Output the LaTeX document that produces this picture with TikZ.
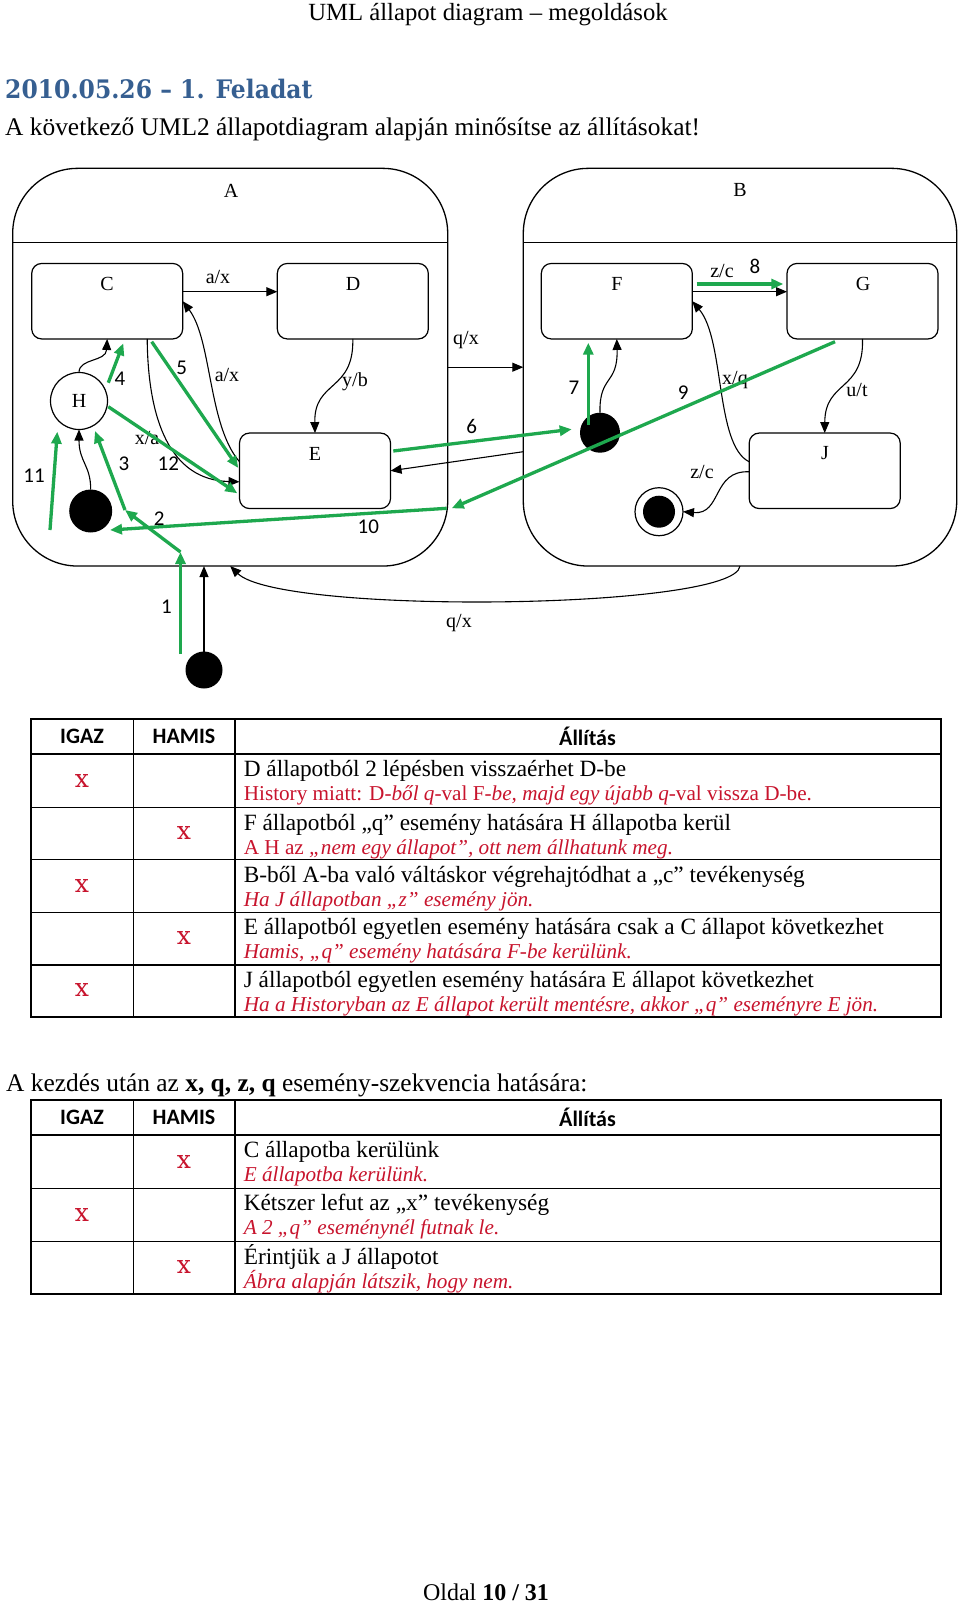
\documentclass[tikz,border=0pt]{standalone}
\usepackage{fontspec}
\setmainfont{Liberation Serif}
\newfontfamily\calib{Carlito}
\newfontfamily\dvs{DejaVu Serif}
\newfontfamily\dvsc[FakeStretch=0.92]{DejaVu Serif}
\usetikzlibrary{arrows.meta,calc}
\definecolor{grn}{RGB}{30,168,78}
\definecolor{rd}{RGB}{200,20,45}
\definecolor{ttl}{RGB}{54,95,145}
\newcommand{\fs}[1]{\fontsize{#1}{#1}\selectfont}
\begin{document}
\begin{tikzpicture}[x=1pt,y=-1pt,
  big/.style={draw, line width=1.3pt, rounded corners=65pt, inner sep=0, outer sep=0, minimum height=397.7pt},
  st/.style={draw, line width=1.2pt, rounded corners=10pt, minimum width=151pt, minimum height=75.5pt, inner sep=0, outer sep=0},
  lbl/.style={font=\fs{20}, inner sep=0},
  num/.style={font=\calib\fs{21}, inner sep=0},
  tr/.style={line width=1.1pt, -{Triangle[length=11pt,width=9pt]}},
  gr/.style={draw=grn, line width=3.3pt, -{Triangle[length=12pt,width=10pt]}},
  ini/.style={circle, fill=black, inner sep=0, outer sep=0},
  txt/.style={anchor=base west, inner sep=0, font=\fs{23.3}},
  rtxt/.style={anchor=base west, inner sep=0, font=\fs{21.2}, text=rd},
  hdr/.style={inner sep=0, font=\calib\bfseries\fs{22}},
  xm/.style={inner sep=0, font=\dvs\fs{25}, text=rd},
  thick line/.style={line width=2.2pt},
  thin line/.style={line width=1.3pt}
]
\fill[white] (0,0) rectangle (960,1605);
\useasboundingbox (0,0) rectangle (960,1605);

% page texts
\node[inner sep=0, anchor=base, font=\fs{24.7}] (pghead) at (488,21) {UML állapot diagram – megoldások};
\node[inner sep=0, anchor=base west, font=\dvsc\bfseries\fs{25.5}, text=ttl] (title) at (5,99) {2010.05.26 – 1. Feladat};
\node[inner sep=0, anchor=base west, font=\fs{25.4}] (intro) at (5,136) {A következő UML2 állapotdiagram alapján minősítse az állításokat!};

% ===== diagram =====
\node[big, minimum width=435pt] (A) at (230.2,367.2) {};
\node[big, minimum width=433.4pt] (B) at (740,367.2) {};
\draw[line width=1.3pt] ($(A.north west)+(0,74.4)$) -- ($(A.north east)+(0,74.4)$);
\draw[line width=1.3pt] ($(B.north west)+(0,74.4)$) -- ($(B.north east)+(0,74.4)$);
\node[lbl] (Al) at (231,191) {A};
\node[lbl] (Bl) at (740,190) {B};

\node[st] (C) at (107.2,301.2) {};
\node[st] (D) at (352.8,301.2) {};
\node[st] (E) at (315,470.8) {};
\node[st] (F) at (616.8,301.2) {};
\node[st] (G) at (862.5,301.2) {};
\node[st] (J) at (824.7,470.8) {};
\node[lbl] (Cl) at (107,284) {C};
\node[lbl] (Dl) at (353,284) {D};
\node[lbl] (El) at (315,454) {E};
\node[lbl] (Fl) at (617,284) {F};
\node[lbl] (Gl) at (863,284) {G};
\node[lbl] (Jl) at (825,453) {J};

\node[circle, draw, line width=1.2pt, minimum size=57pt, inner sep=0, outer sep=0, font=\fs{20}] (H) at (79,401) {H};
\node[ini, minimum size=43pt] (iA) at (90.7,511) {};
\node[ini, minimum size=40pt] (iB) at (600,432.7) {};
\node[ini, minimum size=37pt] (i0) at (204,670) {};
\node[circle, draw, line width=1.2pt, minimum size=48pt, inner sep=0, outer sep=0] (fin) at (659,511.7) {};
\node[ini, minimum size=32pt] (finin) at (fin) {};

% black transitions
\draw[tr] ($(C.east)+(0,-9.5)$) -- ($(D.west)+(0,-9.5)$);
\node[lbl] (l1) at (218,277) {a/x};
\draw[tr] (H.north) .. controls (79,358) and (106,362) .. (C.south);
\draw[tr] (iA.north) .. controls (90.7,465) and (79,462) .. (H.south);
\draw[tr] ($(E.west)+(0,-9)$) .. controls (208,425) and (212,340) .. (C.east);
\node[lbl] (l2) at (227,375) {a/x};
\draw[tr] ($(C.south)+(40,0)$) .. controls (148,420) and (170,480) .. ($(E.west)+(0,11)$);
\node[lbl] (l3) at (147,438) {x/a};
\draw[tr] (D.south) .. controls (354,392) and (314,380) .. (E.north);
\node[lbl] (l4) at (355,382) {y/b};
\coordinate (bE) at ($(B.west)+(0,84.5)$);
\draw[tr] (bE) -- (E.east);
\draw[tr] (A.east) -- (B.west);
\node[lbl] (l5) at (466,340) {q/x};
\draw[tr] (B.south) .. controls (735,610) and (280,615) .. (A.south);
\node[lbl] (l6) at (459,623) {q/x};
\draw[tr] (i0.north) -- (i0 |- A.south);

\draw[tr] ($(F.east)+(0,-9.5)$) -- ($(G.west)+(0,-9.5)$);
\node[lbl] (l7) at (722,271) {z/c};
\draw[tr] (iB.north) .. controls (599,375) and (618,385) .. (F.south);
\draw[tr] ($(J.west)+(0,-9)$) .. controls (715,445) and (725,340) .. (F.east);
\node[lbl] (l8) at (735,380) {x/q};
\draw[tr] (G.south) .. controls (864,392) and (825,380) .. (J.north);
\node[lbl] (l9) at (857,390) {u/t};
\draw[tr] ($(J.west)+(0,1)$) .. controls (712,470) and (722,515) .. (fin.east);
\node[lbl] (l10) at (702,472) {z/c};

% green solution path
\coordinate (g1s) at (180.5,654);
\coordinate (g1e) at (180.5,552);
\coordinate (g2e) at (125,510);
\coordinate (g3e) at (95,431);
\coordinate (g4s) at (108.3,382.7);
\coordinate (g4e) at (123.3,343.3);
\coordinate (g5s) at (151.7,341.7);
\coordinate (g5e) at (238.3,468);
\coordinate (g6s) at (393.3,451);
\coordinate (g6e) at (571.7,429.3);
\coordinate (g7s) at (588.3,425);
\coordinate (g7e) at (588.3,342.7);
\coordinate (g8s) at (696.7,284);
\coordinate (g8e) at (783.3,284);
\coordinate (g9s) at (835,341.7);
\coordinate (g9e) at (451.7,508.3);
\coordinate (g10s) at (446.7,508.3);
\coordinate (g10e) at (110,530);
\coordinate (g11s) at (50,530);
\coordinate (g11e) at (57.3,431.7);
\coordinate (g12s) at (108.3,406.7);
\coordinate (g12e) at (237.3,493.3);
\draw[gr] (g1s) -- (g1e);
\draw[gr] (g1e) -- (g2e);
\draw[gr] (g2e) -- (g3e);
\draw[gr] (g4s) -- (g4e);
\draw[gr] (g5s) -- (g5e);
\draw[gr] (g6s) -- (g6e);
\draw[gr] (g7s) -- (g7e);
\draw[gr] (g8s) -- (g8e);
\draw[gr] (g9s) -- (g9e);
\draw[gr] (g10s) -- (g10e);
\draw[gr] (g11s) -- (g11e);
\draw[gr] (g12s) -- (g12e);
\node[num] (n1) at (166.5,606.7) {1};
\node[num] (n2) at (159.3,518.3) {2};
\node[num] (n3) at (124,464) {3};
\node[num] (n4) at (120,378.3) {4};
\node[num] (n5) at (181.7,368.3) {5};
\node[num] (n6) at (471.7,426.7) {6};
\node[num] (n7) at (574,387.7) {7};
\node[num] (n8) at (755,266.7) {8};
\node[num] (n9) at (683.3,392.7) {9};
\node[num] (n10) at (368.3,526.7) {10};
\node[num] (n11) at (34,476) {11};
\node[num] (n12) at (168.3,464) {12};

% ===== table 1 =====
\draw[thick line] (30.6,719.3) rectangle (940.6,1017.3);
\draw[thick line] (30.6,754) -- (940.6,754);
\foreach \yy in {807.7,859.7,912.3,965} \draw[thin line] (30.6,\yy) -- (940.6,\yy);
\foreach \xx in {133.4,235} \draw[thin line] (\xx,719.3) -- (\xx,1017.3);
\node[hdr] (h1a) at (82,736.7) {IGAZ};
\node[hdr] (h1b) at (184,736.7) {HAMIS};
\node[hdr] (h1c) at (587.5,736.7) {Állítás};

\node[txt] (r1a) at (243.6,776.5) {D állapotból 2 lépésben visszaérhet D-be};
\node[rtxt] (r1b) at (243.6,800.5) {History miatt: D-\textit{ből} \textit{q}-val F-\textit{be, majd egy újabb} \textit{q}-val vissza D-be.};
\node[xm] (x1) at (82,780.7) {x};
\node[txt] (r2a) at (243.6,830.2) {F állapotból „q” esemény hatására H állapotba kerül};
\node[rtxt] (r2b) at (243.6,854.2) {A H az \textit{„nem egy állapot”, ott nem állhatunk meg.}};
\node[xm] (x2) at (184,833.3) {x};
\node[txt] (r3a) at (243.6,882.2) {B-ből A-ba való váltáskor végrehajtódhat a „c” tevékenység};
\node[rtxt] (r3b) at (243.6,906.2) {\textit{Ha J állapotban „z” esemény jön.}};
\node[xm] (x3) at (82,885.7) {x};
\node[txt] (r4a) at (243.6,934.8) {E állapotból egyetlen esemény hatására csak a C állapot következhet};
\node[rtxt] (r4b) at (243.6,958.8) {\textit{Hamis, „q” esemény hatására F-be kerülünk.}};
\node[xm] (x4) at (184,937.7) {x};
\node[txt] (r5a) at (243.6,987.5) {J állapotból egyetlen esemény hatására E állapot következhet};
\node[rtxt] (r5b) at (243.6,1011.5) {\textit{Ha a Historyban az E állapot került mentésre, akkor „q” eseményre E jön.}};
\node[xm] (x5) at (82,990) {x};

% ===== sequence text and table 2 =====
\node[inner sep=0, anchor=base west, font=\fs{25.4}] (seq) at (6,1091) {A kezdés után az \textbf{x, q, z, q} esemény-szekvencia hatására:};
\draw[thick line] (30.6,1100) rectangle (940.6,1294.3);
\draw[thick line] (30.6,1135) -- (940.6,1135);
\foreach \yy in {1188.3,1241.7} \draw[thin line] (30.6,\yy) -- (940.6,\yy);
\foreach \xx in {133.4,235} \draw[thin line] (\xx,1100) -- (\xx,1294.3);
\node[hdr] (h2a) at (82,1117.5) {IGAZ};
\node[hdr] (h2b) at (184,1117.5) {HAMIS};
\node[hdr] (h2c) at (587.5,1117.5) {Állítás};
\node[txt] (s1a) at (243.6,1157.5) {C állapotba kerülünk};
\node[rtxt] (s1b) at (243.6,1181.5) {\textit{E állapotba kerülünk.}};
\node[xm] (y1) at (184,1161.7) {x};
\node[txt] (s2a) at (243.6,1210.8) {Kétszer lefut az „x” tevékenység};
\node[rtxt] (s2b) at (243.6,1234.8) {\textit{A 2 „q” eseménynél futnak le.}};
\node[xm] (y2) at (82,1215) {x};
\node[txt] (s3a) at (243.6,1264.2) {Érintjük a J állapotot};
\node[rtxt] (s3b) at (243.6,1288.2) {\textit{Ábra alapján látszik, hogy nem.}};
\node[xm] (y3) at (184,1267.3) {x};

% footer
\node[inner sep=0, anchor=base, font=\fs{24}] (foot) at (486,1600) {Oldal \textbf{10 / 31}};
\end{tikzpicture}
\end{document}
